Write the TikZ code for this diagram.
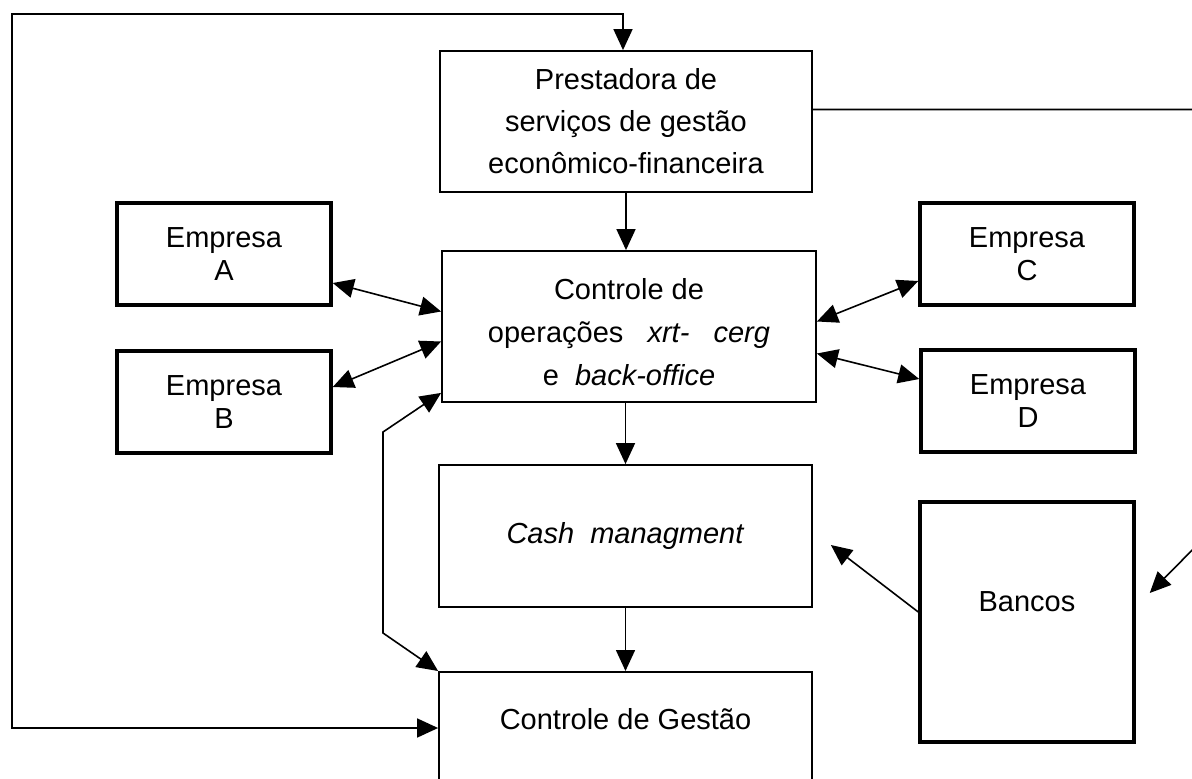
\documentclass[tikz,border=0pt]{standalone}
\usepackage{fontspec}
\setmainfont{Liberation Sans}
\usetikzlibrary{arrows.meta}

\begin{document}
\begin{tikzpicture}[x=1pt,y=-1pt,
  every node/.style={font=\fontsize{29}{33}\selectfont},
  thinbox/.style={draw, line width=1.8pt, inner sep=0pt},
  thickbox/.style={draw, line width=3.5pt, inner sep=0pt, minimum width=214pt, minimum height=102pt},
  tip/.tip={Triangle[length=21pt,width=19pt]},
  link/.style={line width=1.6pt, -tip},
  both/.style={line width=1.6pt, tip-tip}]

\useasboundingbox (0,0) rectangle (1192,779);

% central column
\node[thinbox, align=center, minimum width=372pt, minimum height=141pt,
      font=\fontsize{29}{42}\selectfont] (prest) at (626,121.5)
  {Prestadora de\\serviços de gestão\\econômico-financeira};
\node[thinbox, align=center, minimum width=374pt, minimum height=151pt,
      font=\fontsize{29}{43}\selectfont] (ctl) at (629,326.5)
  {\rule{0pt}{32pt}Controle de\\operações\ \ \ \textit{xrt-}\ \ \ \textit{cerg}\\e\ \ \textit{back-office}};
\node[thinbox, minimum width=373pt, minimum height=142pt] (cash) at (625.5,536)
  {\textit{Cash\ \ managment}};
\node[thinbox, anchor=north, minimum width=373pt, text height=21pt, text depth=60pt,
      inner ysep=37pt] (gest) at (625.5,671) {Controle de Gestão};

% companies and banks
\node[thickbox, align=center] (ea) at (224,254) {Empresa\\A};
\node[thickbox, align=center] (eb) at (224,402) {Empresa\\B};
\node[thickbox, align=center] (ec) at (1027,254) {Empresa\\C};
\node[thickbox, align=center] (ed) at (1028,401) {Empresa\\D};
\node[thickbox, minimum height=240pt, text depth=41pt] (bk) at (1027,622) {Bancos};

% bend points of the routed connectors
\coordinate (tl) at (12,14);
\coordinate (bl) at (12,728);
\coordinate (k1) at (383,432);
\coordinate (k2) at (383,633);
\coordinate (r1) at (1212,109.5);
\coordinate (r2) at (1212,530);

% vertical flow
\draw[link] (prest.south) -- (prest.south |- ctl.north);
\draw[link] (cash.north |- ctl.south) -- (cash.north);
\draw[link] (cash.south) -- (gest.north);

% outer feedback loop
\draw[both] ([xshift=-3pt]prest.north) |- (tl) -- (bl) -- (bl -| gest.west);

% exchanges with the companies
\draw[both] ([yshift=-29pt]ea.east) -- ([yshift=15pt]ctl.west);
\draw[both] ([yshift=15pt]eb.east) -- ([yshift=-15pt]ctl.west);
\draw[both] ([yshift=5pt]ctl.east) -- ([yshift=-27pt]ec.west);
\draw[both] ([yshift=-27pt]ctl.east) -- ([yshift=22pt]ed.west);

% operations control and management control
\draw[both] ([yshift=10pt]ctl.south west) -- (k1) -- (k2) -- (gest.north west);

% banks
\draw[link] ([yshift=10pt]bk.west) -- ([xshift=18pt,yshift=-9pt]cash.east);
\draw[link] ([yshift=12pt]prest.east) -- (r1) -- (r2) -- ([xshift=14pt,yshift=29pt]bk.east);

\end{tikzpicture}
\end{document}
